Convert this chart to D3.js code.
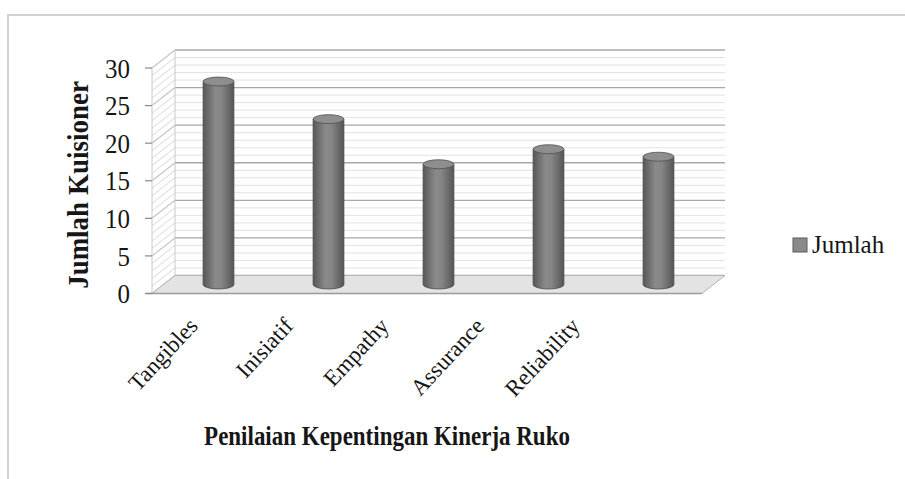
<!DOCTYPE html>
<html><head><meta charset="utf-8">
<script src="https://cdn.jsdelivr.net/npm/d3@7/dist/d3.min.js"></script>
<style>html,body{margin:0;padding:0;background:#fff;}svg{display:block;}</style>
</head><body>
<svg id="chart" width="905" height="479"></svg>
<script>
const categories = ["Tangibles", "Inisiatif", "Empathy", "Assurance", "Reliability"];
const values = [27, 22, 16, 18, 17];
const yTicks = [0, 5, 10, 15, 20, 25, 30];
const minorTicks = d3.range(0, 31, 1);
const seriesName = "Jumlah";
const xTitle = "Penilaian Kepentingan Kinerja Ruko";
const yTitle = "Jumlah Kuisioner";

const svg = d3.select("#chart");
const FONT = "'Liberation Serif','Times New Roman',serif";
const TXT = "#161616";

// frame
svg.append("line").attr("x1", 7).attr("x2", 905).attr("y1", 15).attr("y2", 15).attr("stroke", "#d2d2d2").attr("stroke-width", 2);
svg.append("line").attr("x1", 8).attr("x2", 8).attr("y1", 15).attr("y2", 479).attr("stroke", "#d2d2d2").attr("stroke-width", 2);

// 3D geometry
const FX0 = 152, FX1 = 702, DX = 23, DY = -18;
const y = d3.scaleLinear().domain([0, 30]).range([293.5, 68]);
const x = d3.scaleBand().domain(categories).range([FX0, FX1]);

const defs = svg.append("defs");
const grad = defs.append("linearGradient").attr("id", "cyl").attr("x1", "0").attr("x2", "1").attr("y1", "0").attr("y2", "0");
grad.append("stop").attr("offset", "0").attr("stop-color", "#575757");
grad.append("stop").attr("offset", "0.4").attr("stop-color", "#8a8a8a");
grad.append("stop").attr("offset", "0.6").attr("stop-color", "#858585");
grad.append("stop").attr("offset", "1").attr("stop-color", "#555555");

const g = svg.append("g");

// back wall
g.append("rect").attr("x", FX0 + DX).attr("y", y(30) + DY).attr("width", FX1 - FX0).attr("height", y(0) - y(30)).attr("fill", "#fff");
// side wall
g.append("path").attr("d", `M${FX0},${y(0)} L${FX0},${y(30)} L${FX0 + DX},${y(30) + DY} L${FX0 + DX},${y(0) + DY} Z`).attr("fill", "#fff");

// minor gridlines
minorTicks.filter(v => v % 5 !== 0).forEach(v => {
  g.append("line").attr("x1", FX0 + DX).attr("x2", FX1 + DX).attr("y1", y(v) + DY).attr("y2", y(v) + DY).attr("stroke", "#e2e2e2").attr("stroke-width", 1);
  g.append("line").attr("x1", FX0).attr("x2", FX0 + DX).attr("y1", y(v)).attr("y2", y(v) + DY).attr("stroke", "#d8d8d8").attr("stroke-width", 1);
});
// major gridlines
yTicks.forEach(v => {
  g.append("line").attr("x1", FX0 + DX).attr("x2", FX1 + DX).attr("y1", y(v) + DY).attr("y2", y(v) + DY).attr("stroke", "#a8a8a8").attr("stroke-width", 1.3);
  g.append("line").attr("x1", FX0).attr("x2", FX0 + DX).attr("y1", y(v)).attr("y2", y(v) + DY).attr("stroke", "#c4c4c4").attr("stroke-width", 1.2);
});
// wall edges
g.append("line").attr("x1", FX0 + DX).attr("x2", FX0 + DX).attr("y1", y(30) + DY).attr("y2", y(0) + DY).attr("stroke", "#c8c8c8");
g.append("line").attr("x1", FX0).attr("x2", FX0).attr("y1", y(30)).attr("y2", y(0)).attr("stroke", "#c8c8c8");

// floor
g.append("path").attr("d", `M${FX0},${y(0)} L${FX0 + DX},${y(0) + DY} L${FX1 + DX},${y(0) + DY} L${FX1},${y(0)} Z`)
  .attr("fill", "#e3e3e3").attr("stroke", "#b5b5b5").attr("stroke-width", 1);
g.append("line").attr("x1", FX0 - 6).attr("x2", FX1).attr("y1", y(0)).attr("y2", y(0)).attr("stroke", "#9a9a9a").attr("stroke-width", 1.3);

// y axis ticks and labels
yTicks.forEach(v => {
  g.append("line").attr("x1", FX0 - 7).attr("x2", FX0).attr("y1", y(v)).attr("y2", y(v)).attr("stroke", "#8a8a8a").attr("stroke-width", 1.2);
  g.append("text").attr("transform", `translate(130,${y(v)}) scale(1,1.1)`).attr("dy", "0.35em").attr("text-anchor", "end")
    .attr("font-family", FONT).attr("font-size", 25).attr("fill", TXT).text(v);
});

// cylinders
const rx = x.bandwidth() * 0.14, ry = 4.5;
categories.forEach((c, i) => {
  const cx = x(c) + x.bandwidth() / 2 + DX / 2;
  const base = y(0) + DY / 2;
  const top = y(values[i]) + DY / 2;
  g.append("path")
    .attr("d", `M${cx - rx},${top} L${cx - rx},${base} A${rx},${ry} 0 0 0 ${cx + rx},${base} L${cx + rx},${top} Z`)
    .attr("fill", "url(#cyl)").attr("stroke", "#4a4a4a").attr("stroke-width", 0.8);
  g.append("ellipse").attr("cx", cx).attr("cy", top).attr("rx", rx).attr("ry", ry)
    .attr("fill", "#8e8e8e").attr("stroke", "#4f4f4f").attr("stroke-width", 0.8);
});

// category labels
const xl = d3.scalePoint().domain(categories).range([199, 581]);
categories.forEach(c => {
  g.append("text").attr("transform", `translate(${xl(c)},327) rotate(-47)`).attr("text-anchor", "end")
    .attr("font-family", FONT).attr("font-size", 23).attr("fill", TXT).text(c);
});

// axis titles
svg.append("text").attr("transform", "translate(387,445) scale(1,1.15)").attr("text-anchor", "middle")
  .attr("font-family", FONT).attr("font-weight", "bold").attr("font-size", 23).attr("fill", TXT).text(xTitle);
svg.append("text").attr("transform", "translate(88,185) rotate(-90) scale(1,1.1)").attr("text-anchor", "middle")
  .attr("font-family", FONT).attr("font-weight", "bold").attr("font-size", 27).attr("fill", TXT).text(yTitle);

// legend
const lg = svg.append("g").attr("transform", "translate(793,238)");
lg.append("rect").attr("width", 14).attr("height", 14).attr("fill", "#8a8a8a").attr("stroke", "#5a5a5a").attr("stroke-width", 1);
lg.append("text").attr("x", 19).attr("y", 15).attr("transform", "scale(1,1)").attr("font-family", FONT).attr("font-size", 25).attr("fill", TXT).text(seriesName);
</script>
</body></html>
